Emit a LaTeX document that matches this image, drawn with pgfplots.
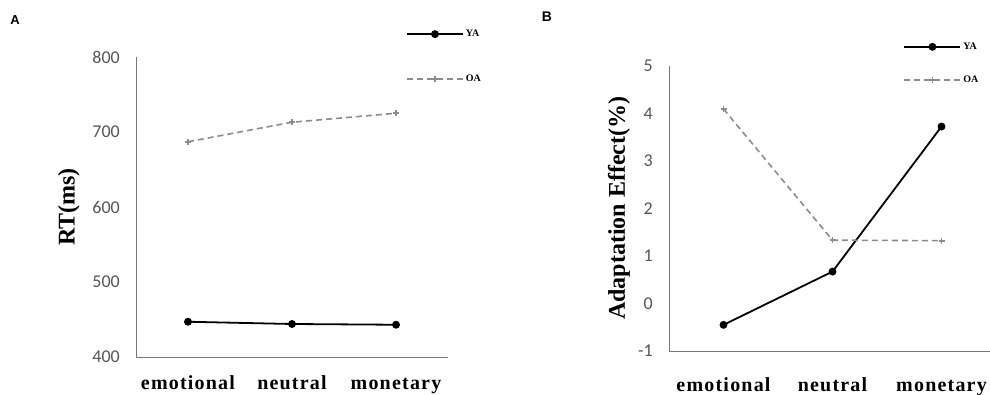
\documentclass[border=0pt]{standalone}
\usepackage{fontspec}
\setmainfont{Liberation Serif}
\newfontfamily\carlito{Carlito}
\newfontfamily\arialf{Liberation Sans}
\usepackage{pgfplots}
\pgfplotsset{compat=1.18}
\definecolor{ticktext}{RGB}{85,85,85}
\definecolor{axisgray}{RGB}{120,120,120}
\definecolor{oagray}{RGB}{140,140,140}
\pgfplotsset{
  mystyle/.style={
    scale only axis,
    axis x line=bottom, axis y line=left,
    axis line style={-, axisgray, line width=0.8pt},
    major tick length=0pt,
    xmin=0,
    xtick={0.5,1.5,2.5},
    xticklabels={emotional,neutral,monetary},
    xticklabel style={font=\bfseries\fontsize{20}{20}\selectfont\addfontfeature{LetterSpace=6}, anchor=north, inner sep=0pt, text height=14pt, text depth=4pt},
    yticklabel style={font=\carlito\fontsize{18}{18}\selectfont, text=ticktext, anchor=east, inner sep=0pt, xshift=-16pt},
    /pgf/number format/assume math mode=true,
    ylabel style={font=\bfseries\fontsize{24}{24}\selectfont, anchor=center},
    legend style={draw=none, fill=none, anchor=north west, inner sep=0pt,
      font=\bfseries\fontsize{10}{10}\selectfont, cells={anchor=west}},
    legend cell align=left,
    legend image code/.code={\draw[mark repeat=2,mark phase=2,##1] plot coordinates {(0pt,0pt) (28pt,0pt) (56pt,0pt)};},
    clip=false,
  },
  ya/.style={black, line width=1.8pt, mark=*, mark size=3pt},
  oa/.style={oagray, line width=1.6pt, dash pattern=on 6pt off 4pt, mark=+, mark size=3pt, mark options={solid, line width=1.8pt}},
}
\begin{document}
\begin{tikzpicture}
\useasboundingbox (0,0) rectangle (990pt,395pt);
\node[font=\arialf\bfseries\fontsize{13}{13}\selectfont] at (15pt,375pt) {A};
\node[font=\arialf\bfseries\fontsize{14}{14}\selectfont] at (547pt,378pt) {B};
\begin{axis}[mystyle,
  at={(136pt,38pt)}, anchor=south west,
  width=312pt, height=300pt,
  xmax=3, ymin=400, ymax=800,
  ytick={400,500,600,700,800},
  xticklabel style={yshift=-18pt},
  ylabel={RT(ms)},
  ylabel style={at={(axis description cs:-0.215,0.5)}},
  legend style={at={(axis description cs:0.865,1.097)}, row sep=33pt},
]
\addplot[ya] coordinates {(0.5,447) (1.5,444) (2.5,443)};
\addlegendentry{YA}
\addplot[oa] coordinates {(0.5,687) (1.5,713) (2.5,725)};
\addlegendentry{OA}
\end{axis}
\begin{axis}[mystyle,
  at={(669pt,44pt)}, anchor=south west,
  width=321pt, height=285.3pt,
  xmax=2.945, ymin=-1, ymax=5,
  ytick={-1,0,1,2,3,4,5},
  xticklabel style={yshift=-26pt},
  ylabel={Adaptation Effect(\%)},
  ylabel style={at={(axis description cs:-0.156,0.5)}},
  legend style={at={(axis description cs:0.73,1.088)}, row sep=21pt},
]
\addplot[ya] coordinates {(0.5,-0.45) (1.5,0.67) (2.5,3.72)};
\addlegendentry{YA}
\addplot[oa] coordinates {(0.5,4.09) (1.5,1.33) (2.5,1.32)};
\addlegendentry{OA}
\end{axis}
\end{tikzpicture}
\end{document}
